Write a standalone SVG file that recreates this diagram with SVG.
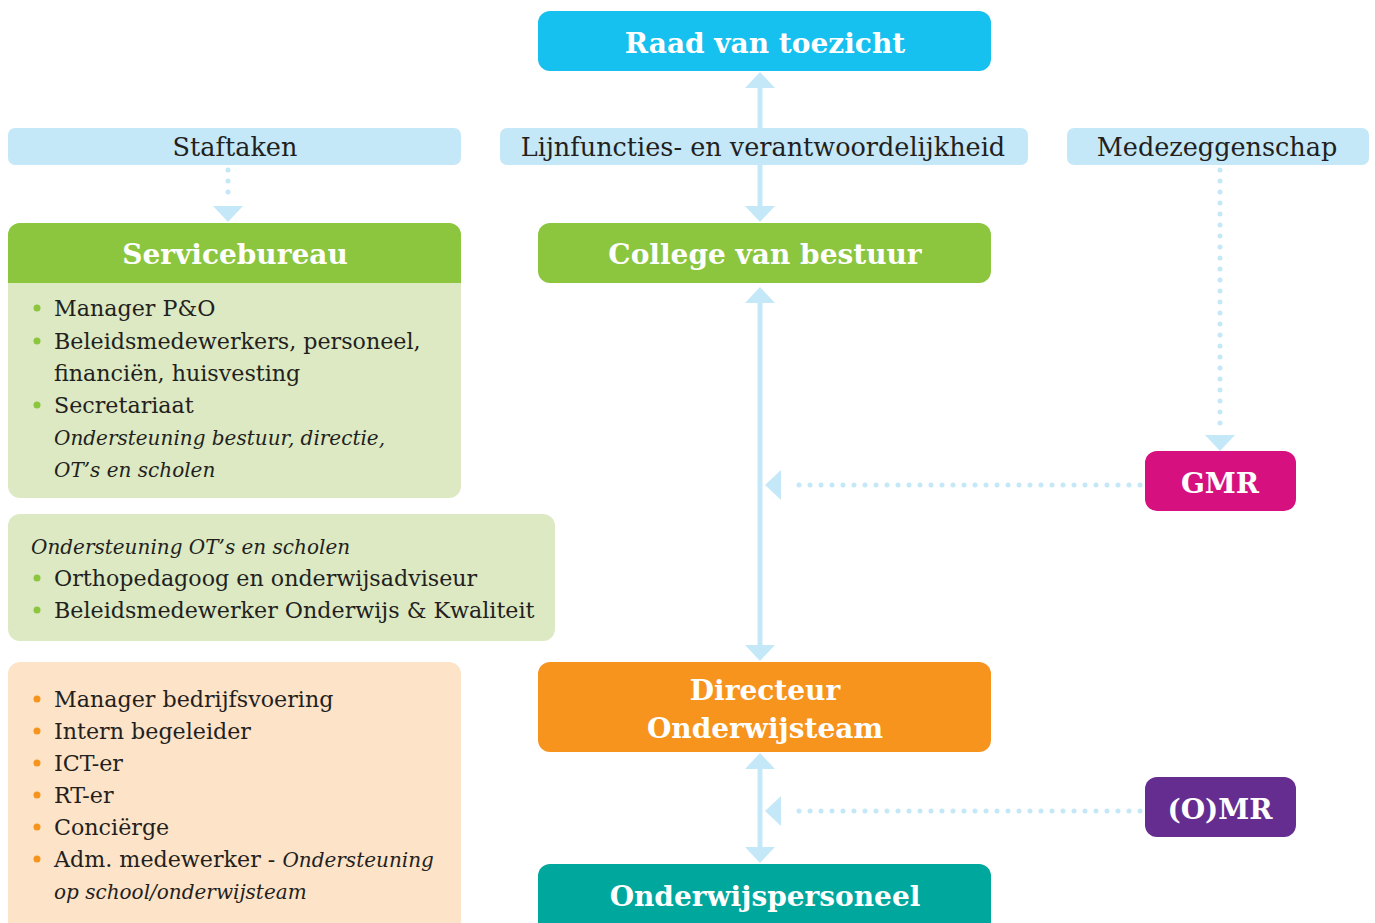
<svg xmlns="http://www.w3.org/2000/svg" width="1375" height="923" viewBox="0 0 1375 923">
<defs>
<style>
.hd{font-family:"DejaVu Serif","Liberation Serif",serif;font-weight:bold;fill:#fff;font-size:28px;text-anchor:middle;}
.bar{fill:#C5E8F8;}
.bt{font-family:"DejaVu Serif","Liberation Serif",serif;fill:#231F20;font-size:25.5px;text-anchor:middle;}
.li{font-family:"DejaVu Serif","Liberation Serif",serif;fill:#231F20;font-size:22.2px;}
.it{font-style:italic;font-size:20px;}
.ln{stroke:#C5E8F8;stroke-width:5;fill:none;}
.dot{stroke:#C5E8F8;stroke-width:5;fill:none;stroke-linecap:round;stroke-dasharray:0 11;}
.ah{fill:#C5E8F8;}
</style>
</defs>
<rect width="1375" height="923" fill="#fff"/>
<g id="connectors">
<line class="ln" x1="760" y1="80" x2="760" y2="128"/>
<polygon class="ah" points="760,72 775,88 745,88"/>
<line class="ln" x1="760" y1="165" x2="760" y2="212"/>
<polygon class="ah" points="760,222 775,206 745,206"/>
<line class="ln" x1="760" y1="295" x2="760" y2="652"/>
<polygon class="ah" points="760,287 775,303 745,303"/>
<polygon class="ah" points="760,661 775,645 745,645"/>
<line class="ln" x1="760" y1="762" x2="760" y2="855"/>
<polygon class="ah" points="760,753 775,769 745,769"/>
<polygon class="ah" points="760,863 775,847 745,847"/>
<line class="dot" x1="1140" y1="485" x2="788" y2="485"/>
<polygon class="ah" points="765,485 781,470 781,500"/>
<line class="dot" x1="1140" y1="811" x2="788" y2="811"/>
<polygon class="ah" points="765,811 781,796 781,826"/>
<line class="dot" x1="1220" y1="170" x2="1220" y2="430"/>
<polygon class="ah" points="1220,451 1235,435 1205,435"/>
<line class="dot" x1="228" y1="170" x2="228" y2="200"/>
<polygon class="ah" points="228,222 243,206 213,206"/>
</g>
<g id="raad">
<rect x="538" y="11" width="453" height="60" rx="12" fill="#16C0EF"/>
<text class="hd" x="765" y="53">Raad van toezicht</text>
</g>
<g id="staftaken">
<rect class="bar" x="8" y="128" width="453" height="37" rx="7"/>
<text class="bt" x="235" y="156">Staftaken</text>
</g>
<g id="lijnfuncties">
<rect class="bar" x="500" y="128" width="528" height="37" rx="7"/>
<text class="bt" x="763" y="156">Lijnfuncties- en verantwoordelijkheid</text>
</g>
<g id="medezeggenschap">
<rect class="bar" x="1067" y="128" width="302" height="37" rx="7"/>
<text class="bt" x="1217" y="156">Medezeggenschap</text>
</g>
<g id="servicebureau">
<rect x="8" y="223" width="453" height="275" rx="12" fill="#DCE9C3"/>
<path d="M8,283 V235 a12,12 0 0 1 12,-12 H449 a12,12 0 0 1 12,12 V283 Z" fill="#8CC63F"/>
<text class="hd" x="235" y="264">Servicebureau</text>
<g fill="#8CC63F"><circle cx="37" cy="308" r="3.5"/><circle cx="37" cy="341" r="3.5"/><circle cx="37" cy="405" r="3.5"/></g>
<text class="li" x="54" y="316">Manager P&amp;O</text>
<text class="li" x="54" y="349">Beleidsmedewerkers, personeel,</text>
<text class="li" x="54" y="381">financiën, huisvesting</text>
<text class="li" x="54" y="413">Secretariaat</text>
<text class="li it" x="54" y="445">Ondersteuning bestuur, directie,</text>
<text class="li it" x="54" y="477">OT’s en scholen</text>
</g>
<g id="ondersteuning">
<rect x="8" y="514" width="547" height="127" rx="12" fill="#DCE9C3"/>
<text class="li it" x="31" y="554">Ondersteuning OT’s en scholen</text>
<g fill="#8CC63F"><circle cx="37" cy="578" r="3.5"/><circle cx="37" cy="610" r="3.5"/></g>
<text class="li" x="54" y="586">Orthopedagoog en onderwijsadviseur</text>
<text class="li" x="54" y="618">Beleidsmedewerker Onderwijs &amp; Kwaliteit</text>
</g>
<g id="schoolteam">
<rect x="8" y="662" width="453" height="275" rx="12" fill="#FDE3C8"/>
<g fill="#F7941E"><circle cx="37" cy="699" r="3.5"/><circle cx="37" cy="731" r="3.5"/><circle cx="37" cy="763" r="3.5"/><circle cx="37" cy="795" r="3.5"/><circle cx="37" cy="827" r="3.5"/><circle cx="37" cy="859" r="3.5"/></g>
<text class="li" x="54" y="707">Manager bedrijfsvoering</text>
<text class="li" x="54" y="739">Intern begeleider</text>
<text class="li" x="54" y="771">ICT-er</text>
<text class="li" x="54" y="803">RT-er</text>
<text class="li" x="54" y="835">Conciërge</text>
<text class="li" x="54" y="867">Adm. medewerker - <tspan class="it">Ondersteuning</tspan></text>
<text class="li it" x="54" y="899">op school/onderwijsteam</text>
</g>
<g id="college">
<rect x="538" y="223" width="453" height="60" rx="12" fill="#8CC63F"/>
<text class="hd" x="765" y="264">College van bestuur</text>
</g>
<g id="directeur">
<rect x="538" y="662" width="453" height="90" rx="12" fill="#F7941E"/>
<text class="hd" x="765" y="700">Directeur</text>
<text class="hd" x="765" y="738">Onderwijsteam</text>
</g>
<g id="onderwijspersoneel">
<rect x="538" y="864" width="453" height="75" rx="12" fill="#00A79D"/>
<text class="hd" x="765" y="906">Onderwijspersoneel</text>
</g>
<g id="gmr">
<rect x="1145" y="451" width="151" height="60" rx="12" fill="#D7107F"/>
<text class="hd" x="1220" y="493">GMR</text>
</g>
<g id="omr">
<rect x="1145" y="777" width="151" height="60" rx="12" fill="#662D91"/>
<text class="hd" x="1220" y="819">(O)MR</text>
</g>
</svg>
